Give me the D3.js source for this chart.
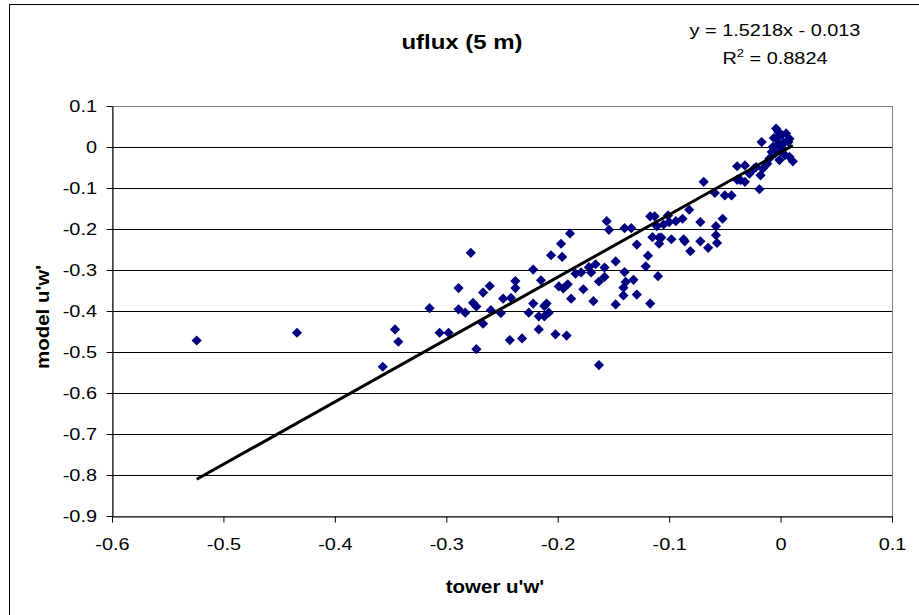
<!DOCTYPE html>
<html>
<head>
<meta charset="utf-8">
<script src="https://cdn.jsdelivr.net/npm/d3@7"></script>
<style>
  body { margin: 0; background: #fff; }
  text { font-family: "Liberation Sans", Arial, sans-serif; fill: #000; }
</style>
</head>
<body>
<div id="chart"></div>
<script>
// tower u'w' (x) and model u'w' (y)
const towerUW = [
  -0.524, -0.434, -0.346, -0.343, -0.357,
  -0.315, -0.306, -0.298, -0.289, -0.289, -0.283, -0.278, -0.276, -0.273, -0.273,
  -0.267, -0.267, -0.261, -0.260, -0.251, -0.249, -0.243, -0.242, -0.238, -0.238,
  -0.232, -0.226, -0.222, -0.222, -0.217, -0.217, -0.215, -0.212, -0.212, -0.210,
  -0.208, -0.206, -0.202, -0.199, -0.197, -0.196, -0.195, -0.192, -0.191, -0.189,
  -0.188, -0.184, -0.179, -0.177, -0.172, -0.170, -0.168, -0.166, -0.163, -0.163,
  -0.158, -0.158, -0.156, -0.154, -0.148, -0.148, -0.141, -0.141, -0.140, -0.139,
  -0.140, -0.134, -0.132, -0.129, -0.129, -0.121, -0.119, -0.117, -0.117, -0.113,
  -0.115, -0.111, -0.110, -0.109, -0.109, -0.107, -0.105, -0.101, -0.100, -0.098,
  -0.094, -0.088, -0.087, -0.086, -0.082, -0.081, -0.072, -0.072, -0.069, -0.065,
  -0.059, -0.058, -0.058, -0.057, -0.052, -0.050, -0.044, -0.039, -0.032, -0.039,
  -0.032,
  -0.036, -0.028, -0.024, -0.022, -0.019, -0.017, -0.018, -0.016, -0.012, -0.010,
  -0.008, -0.007, -0.004, -0.002, -0.004, -0.001, 0.001, 0.002, 0.005, 0.007,
  0.008, -0.001, 0.004, 0.008, 0.011, -0.005, -0.003, 0.000, 0.003, -0.006
];
const modelUW = [
  -0.472, -0.453, -0.445, -0.475, -0.536,
  -0.393, -0.453, -0.453, -0.344, -0.396, -0.404, -0.258, -0.380, -0.389, -0.493,
  -0.431, -0.355, -0.339, -0.398, -0.405, -0.370, -0.471, -0.368, -0.327, -0.344,
  -0.467, -0.404, -0.299, -0.382, -0.413, -0.445, -0.325, -0.413, -0.388, -0.382,
  -0.404, -0.264, -0.457, -0.340, -0.236, -0.268, -0.345, -0.460, -0.335, -0.211,
  -0.370, -0.309, -0.306, -0.347, -0.293, -0.306, -0.376, -0.286, -0.328, -0.532,
  -0.294, -0.317, -0.181, -0.202, -0.279, -0.384, -0.343, -0.362, -0.305, -0.329,
  -0.198, -0.198, -0.324, -0.238, -0.360, -0.291, -0.265, -0.382, -0.169, -0.169,
  -0.220, -0.193, -0.315, -0.221, -0.236, -0.221, -0.189, -0.167, -0.183, -0.225,
  -0.181, -0.175, -0.225, -0.230, -0.153, -0.254, -0.183, -0.230, -0.085, -0.246,
  -0.112, -0.193, -0.215, -0.234, -0.175, -0.118, -0.118, -0.047, -0.045, -0.080,
  -0.085,
  -0.081, -0.065, -0.053, -0.049, -0.103, 0.012, -0.069, -0.053, -0.041, -0.028,
  -0.012, 0.000, 0.045, 0.037, 0.020, 0.008, 0.029, -0.004, 0.033, 0.012,
  0.020, -0.032, -0.020, -0.024, -0.035, -0.016, 0.004, -0.010, 0.010, 0.022
];
const xTicks = [-0.6, -0.5, -0.4, -0.3, -0.2, -0.1, 0, 0.1];
const yTicks = [-0.9, -0.8, -0.7, -0.6, -0.5, -0.4, -0.3, -0.2, -0.1, 0, 0.1];
const fitSlope = 1.5218;
const fitIntercept = -0.013;
const fitR2 = "0.8824";

const width = 919, height = 615;
const margin = { top: 106, right: 27, bottom: 99, left: 112 };
const sx = 1.17; // the original text renders a bit wide

const points = towerUW.map((x, i) => ({ x: x, y: modelUW[i] }));

const svg = d3.select('#chart').append('svg')
  .attr('width', width)
  .attr('height', height);

// outer chart border (right/bottom fall outside the picture)
svg.append('rect')
  .attr('x', 9.5).attr('y', 4.5)
  .attr('width', 1000).attr('height', 1000)
  .attr('fill', 'none').attr('stroke', '#000');

const x = d3.scaleLinear()
  .domain([xTicks[0], xTicks[xTicks.length - 1]])
  .range([margin.left, width - margin.right]);

const y = d3.scaleLinear()
  .domain([yTicks[0], yTicks[yTicks.length - 1]])
  .range([height - margin.bottom, margin.top]);

// gridlines
svg.append('g')
  .selectAll('line')
  .data(yTicks.slice(1, -1))
  .enter().append('line')
  .attr('x1', x.range()[0]).attr('x2', x.range()[1])
  .attr('y1', d => Math.round(y(d)) + 0.5)
  .attr('y2', d => Math.round(y(d)) + 0.5)
  .attr('stroke', '#000')
  .attr('stroke-width', 1);

// plot area border
svg.append('rect')
  .attr('x', x.range()[0] + 0.5).attr('y', y.range()[1] + 0.5)
  .attr('width', x.range()[1] - x.range()[0])
  .attr('height', y.range()[0] - y.range()[1])
  .attr('fill', 'none').attr('stroke', '#808080');

// axes
const yAxis = svg.append('g')
  .attr('transform', `translate(${x.range()[0] + 0.5},0)`)
  .call(d3.axisLeft(y).tickValues(yTicks).tickSize(6).tickSizeOuter(0).tickFormat(d => String(d)));

const xAxis = svg.append('g')
  .attr('transform', `translate(0,${y.range()[0] + 0.5})`)
  .call(d3.axisBottom(x).tickValues(xTicks).tickSize(6).tickSizeOuter(0).tickFormat(d => String(d)));

[yAxis, xAxis].forEach(g => {
  g.select('.domain').attr('stroke', '#000');
  g.selectAll('.tick line').attr('stroke', '#000');
  g.selectAll('.tick text')
    .style('font-size', '17px')
    .attr('fill', '#000');
});

yAxis.selectAll('.tick text')
  .attr('x', -15.5 / sx)
  .attr('dy', '0.35em')
  .attr('transform', `scale(${sx},1)`);

xAxis.selectAll('.tick text')
  .attr('y', 21)
  .attr('transform', `scale(${sx},1)`);

// markers
svg.append('g')
  .selectAll('path')
  .data(points)
  .enter().append('path')
  .attr('d', d3.symbol().type(d3.symbolSquare).size(52))
  .attr('transform', d => `translate(${x(d.x)},${y(d.y)}) rotate(45)`)
  .attr('fill', '#000080');

// linear trendline over the data range
const xMin = d3.min(towerUW), xMax = d3.max(towerUW);
svg.append('line')
  .attr('x1', x(xMin)).attr('y1', y(fitSlope * xMin + fitIntercept))
  .attr('x2', x(xMax)).attr('y2', y(fitSlope * xMax + fitIntercept))
  .attr('stroke', '#000')
  .attr('stroke-width', 3);

// title
svg.append('text')
  .attr('transform', `translate(462,49) scale(${sx},1)`)
  .attr('text-anchor', 'middle')
  .style('font-size', '20.5px')
  .style('font-weight', 'bold')
  .text('uflux (5 m)');

// trendline equation
svg.append('text')
  .attr('transform', `translate(775,36) scale(${sx},1)`)
  .attr('text-anchor', 'middle')
  .style('font-size', '17px')
  .text(`y = ${fitSlope}x - ${Math.abs(fitIntercept)}`);

const r2 = svg.append('text')
  .attr('transform', `translate(775,64) scale(${sx},1)`)
  .attr('text-anchor', 'middle')
  .style('font-size', '17px');
r2.append('tspan').text('R');
r2.append('tspan').attr('dy', -7).style('font-size', '11px').text('2');
r2.append('tspan').attr('dy', 7).text(` = ${fitR2}`);

// axis titles
svg.append('text')
  .attr('transform', `translate(495,593) scale(${sx},1)`)
  .attr('text-anchor', 'middle')
  .style('font-size', '17.5px')
  .style('font-weight', 'bold')
  .text("tower u'w'");

svg.append('text')
  .attr('transform', `translate(43,317) rotate(-90) scale(${sx},1)`)
  .attr('text-anchor', 'middle')
  .attr('dy', '0.35em')
  .style('font-size', '17.5px')
  .style('font-weight', 'bold')
  .text("model u'w'");
</script>
</body>
</html>
